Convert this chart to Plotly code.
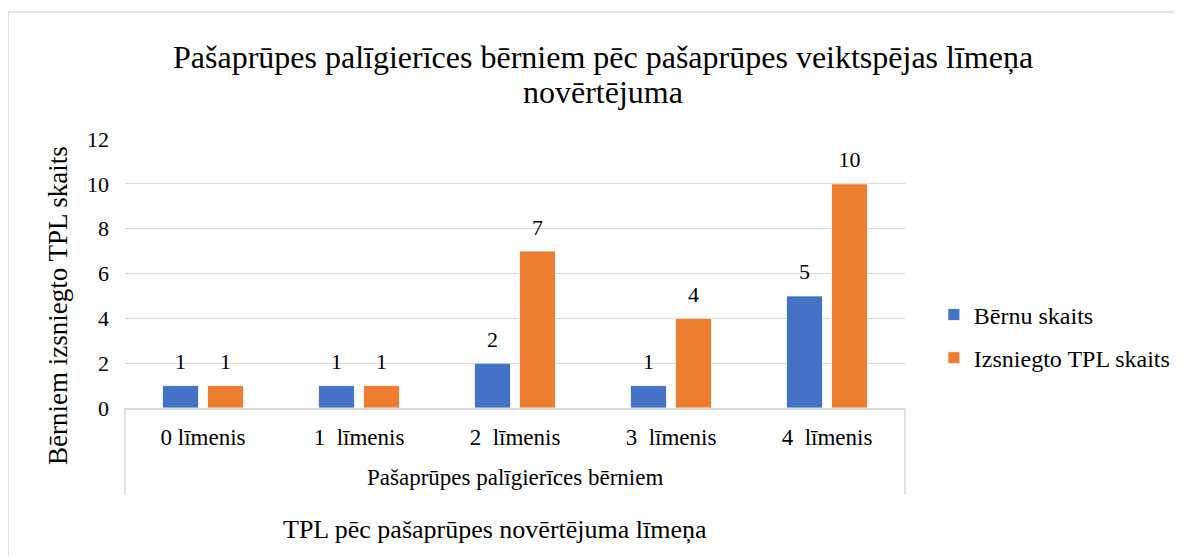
import plotly.graph_objects as go

title_lines = ["Pašaprūpes palīgierīces bērniem pēc pašaprūpes veiktspējas līmeņa", "novērtējuma"]
group_label = "Pašaprūpes palīgierīces bērniem"
categories = ["0 līmenis", "1  līmenis", "2  līmenis", "3  līmenis", "4  līmenis"]
children_count = [1, 1, 2, 1, 5]
issued_count = [1, 1, 7, 4, 10]
series_names = ["Bērnu skaits", "Izsniegto TPL skaits"]
colors = ["#4472C4", "#ED7D31"]
y_ticks = [0, 2, 4, 6, 8, 10, 12]

FONT = "Times New Roman, Liberation Serif, serif"
GRID = "#d9d9d9"

fig = go.Figure()
for name, vals, col, og in zip(series_names, [children_count, issued_count], colors, ["a", "b"]):
    fig.add_trace(go.Bar(
        x=categories, y=vals, name=name,
        marker=dict(color=col, line=dict(color="white", width=0.8)),
        offsetgroup=og, legendgroup=og, hoverinfo="skip",
    ))
for vals, og in zip([children_count, issued_count], ["a", "b"]):
    fig.add_trace(go.Scatter(
        x=categories, y=vals, mode="markers+text", text=[str(v) for v in vals],
        textposition="top center", textfont=dict(family=FONT, size=22, color="#000000"),
        marker=dict(size=16, opacity=0), orientation="v", offsetgroup=og,
        showlegend=False, hoverinfo="skip", cliponaxis=False,
    ))

fig.update_layout(
    width=1182, height=556,
    paper_bgcolor="white", plot_bgcolor="white",
    margin=dict(l=117, r=285, t=131, b=156),
    barmode="group", bargap=0.423, bargroupgap=0.2,
    scattermode="group", scattergap=0.423,
    font=dict(family=FONT, color="#000000", size=20),
    legend=dict(
        x=1.037, xanchor="left", y=0.266, yanchor="middle",
        font=dict(family=FONT, size=24, color="#000000"),
        traceorder="grouped", tracegroupgap=9,
        bgcolor="rgba(0,0,0,0)",
    ),
    showlegend=True,
)
fig.update_yaxes(
    range=[0, 12], tickvals=y_ticks, showgrid=True, gridcolor=GRID, gridwidth=1.3,
    zeroline=False, showline=False, ticks="", ticklabelstandoff=15,
    tickfont=dict(family=FONT, size=22, color="#000000"),
)
fig.update_xaxes(
    type="category", showline=True, linecolor=GRID, linewidth=1.5,
    ticks="", ticklabelstandoff=8, tickfont=dict(family=FONT, size=23, color="#000000"),
)
# chart title (two lines, Excel-like line spacing)
for line, ty in zip(title_lines, [1.305, 1.175]):
    fig.add_annotation(
        text=line, xref="paper", yref="paper", x=0.613, y=ty,
        xanchor="center", yanchor="middle", showarrow=False,
        font=dict(family=FONT, size=32, color="#000000"),
    )
# category group dividers
for xd in (0, 1):
    fig.add_shape(type="line", xref="paper", yref="paper", x0=xd, x1=xd, y0=0, y1=-0.323,
                  line=dict(color=GRID, width=1.5))
fig.add_annotation(
    text=group_label, xref="paper", yref="paper", x=0.5, y=-0.26,
    xanchor="center", yanchor="middle", showarrow=False,
    font=dict(family=FONT, size=23, color="#000000"),
)
fig.add_annotation(
    text="Bērniem izsniegto TPL skaits", textangle=-90, xref="paper", yref="paper",
    x=-0.0859, y=0.383, xanchor="center", yanchor="middle", showarrow=False,
    font=dict(family=FONT, size=27, color="#000000"),
)
fig.add_annotation(
    text="TPL pēc pašaprūpes novērtējuma līmeņa", xref="paper", yref="paper",
    x=0.474, y=-0.45, xanchor="center", yanchor="middle", showarrow=False,
    font=dict(family=FONT, size=26, color="#000000"),
)
fig.add_shape(
    type="rect", xref="paper", yref="paper", x0=-0.15, y0=-0.7, x1=1.5, y1=1.472,
    line=dict(color=GRID, width=1.5), fillcolor="rgba(0,0,0,0)", layer="below",
)
fig.write_html("out.html")
